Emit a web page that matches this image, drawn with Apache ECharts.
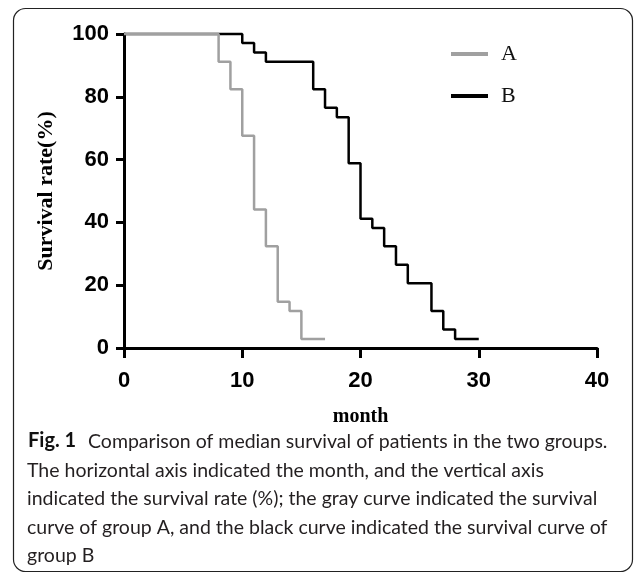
<!DOCTYPE html>
<html>
<head>
<meta charset="utf-8">
<script src="https://cdn.jsdelivr.net/npm/echarts@6/dist/echarts.min.js"></script>
<style>
  html, body { margin: 0; padding: 0; background: #fff; }
  #chart { width: 634px; height: 574px; }
</style>
</head>
<body>
<div id="chart"></div>
<script>
// Kaplan-Meier style step data (month, survival %)
const monthsA = [0, 8, 9, 10, 11, 12, 13, 14, 15, 17];
const survA = [100, 91.2, 82.4, 67.6, 44.1, 32.4, 14.7, 11.8, 2.9, 2.9];
const monthsB = [0, 10, 11, 12, 16, 17, 18, 19, 20, 21, 22, 23, 24, 26, 27, 28, 30];
const survB = [100, 97.1, 94.1, 91.2, 82.4, 76.5, 73.5, 58.8, 41.2, 38.2, 32.4, 26.5, 20.6, 11.8, 5.9, 2.9, 2.9];
const captionLines = [
    'Comparison of median survival of patients in the two groups.',
    'The horizontal axis indicated the month, and the vertical axis',
    'indicated the survival rate (%); the gray curve indicated the survival',
    'curve of group A, and the black curve indicated the survival curve of',
    'group B'
];

const chart = echarts.init(document.getElementById('chart'));

const pairs = (xs, ys) => xs.map((x, i) => [x, ys[i]]);
const capFont = 'Lato, "Open Sans", sans-serif';
const serif = '"Liberation Serif", "Times New Roman", serif';
const sans = '"Liberation Sans", Arial, sans-serif';

const captionGraphics = captionLines.map((line, i) => ({
    type: 'text',
    left: i === 0 ? 88 : 27,
    top: 432 + i * 28.5,
    style: {
        text: line,
        font: '19.5px ' + capFont,
        fill: '#231f20'
    }
}));

const option = {
    backgroundColor: '#fff',
    animation: false,
    grid: {
        left: 124,
        right: 37,
        top: 34,
        bottom: 226
    },
    legend: {
        orient: 'vertical',
        left: 446,
        top: 38,
        itemWidth: 37,
        itemHeight: 4,
        itemGap: 20,
        icon: 'rect',
        data: ['A', 'B'],
        textStyle: {
            fontFamily: serif,
            fontSize: 22,
            color: '#111',
            padding: [0, 0, 0, 8]
        }
    },
    xAxis: {
        type: 'value',
        min: 0,
        max: 40,
        interval: 10,
        name: 'month',
        nameLocation: 'middle',
        nameGap: 59,
        nameTextStyle: {
            fontFamily: serif,
            fontWeight: 'bold',
            fontSize: 20,
            color: '#000'
        },
        splitLine: { show: false },
        axisLine: { lineStyle: { color: '#000', width: 3 } },
        axisTick: { length: 10, lineStyle: { color: '#000', width: 3 } },
        axisLabel: {
            margin: 22,
            fontFamily: sans,
            fontWeight: 'bold',
            fontSize: 22,
            color: '#000'
        }
    },
    yAxis: {
        type: 'value',
        min: 0,
        max: 100,
        interval: 20,
        name: 'Survival rate(%)',
        nameLocation: 'middle',
        nameGap: 67,
        nameTextStyle: {
            fontFamily: serif,
            fontWeight: 'bold',
            fontSize: 22,
            color: '#000'
        },
        splitLine: { show: false },
        axisLine: { show: true, lineStyle: { color: '#000', width: 3 } },
        axisTick: { show: true, length: 8, lineStyle: { color: '#000', width: 3 } },
        axisLabel: {
            margin: 15,
            fontFamily: sans,
            fontWeight: 'bold',
            fontSize: 22,
            color: '#000'
        }
    },
    series: [
        {
            name: 'B',
            type: 'line',
            step: 'end',
            symbol: 'none',
            clip: false,
            data: pairs(monthsB, survB),
            lineStyle: { color: '#000', width: 2.5 },
            itemStyle: { color: '#000' }
        },
        {
            name: 'A',
            type: 'line',
            step: 'end',
            symbol: 'none',
            clip: false,
            data: pairs(monthsA, survA),
            lineStyle: { color: '#a0a0a0', width: 2.5 },
            itemStyle: { color: '#a0a0a0' }
        }
    ],
    graphic: [
        {
            type: 'rect',
            shape: { x: 13.5, y: 8.5, width: 619, height: 563, r: 12 },
            style: { fill: 'none', stroke: '#222', lineWidth: 1.2 },
            silent: true
        },
        {
            type: 'text',
            left: 28,
            top: 431,
            style: {
                text: 'Fig. 1',
                font: 'bold 20px ' + capFont,
                fill: '#111'
            }
        }
    ].concat(captionGraphics)
};

chart.setOption(option);
</script>
</body>
</html>
